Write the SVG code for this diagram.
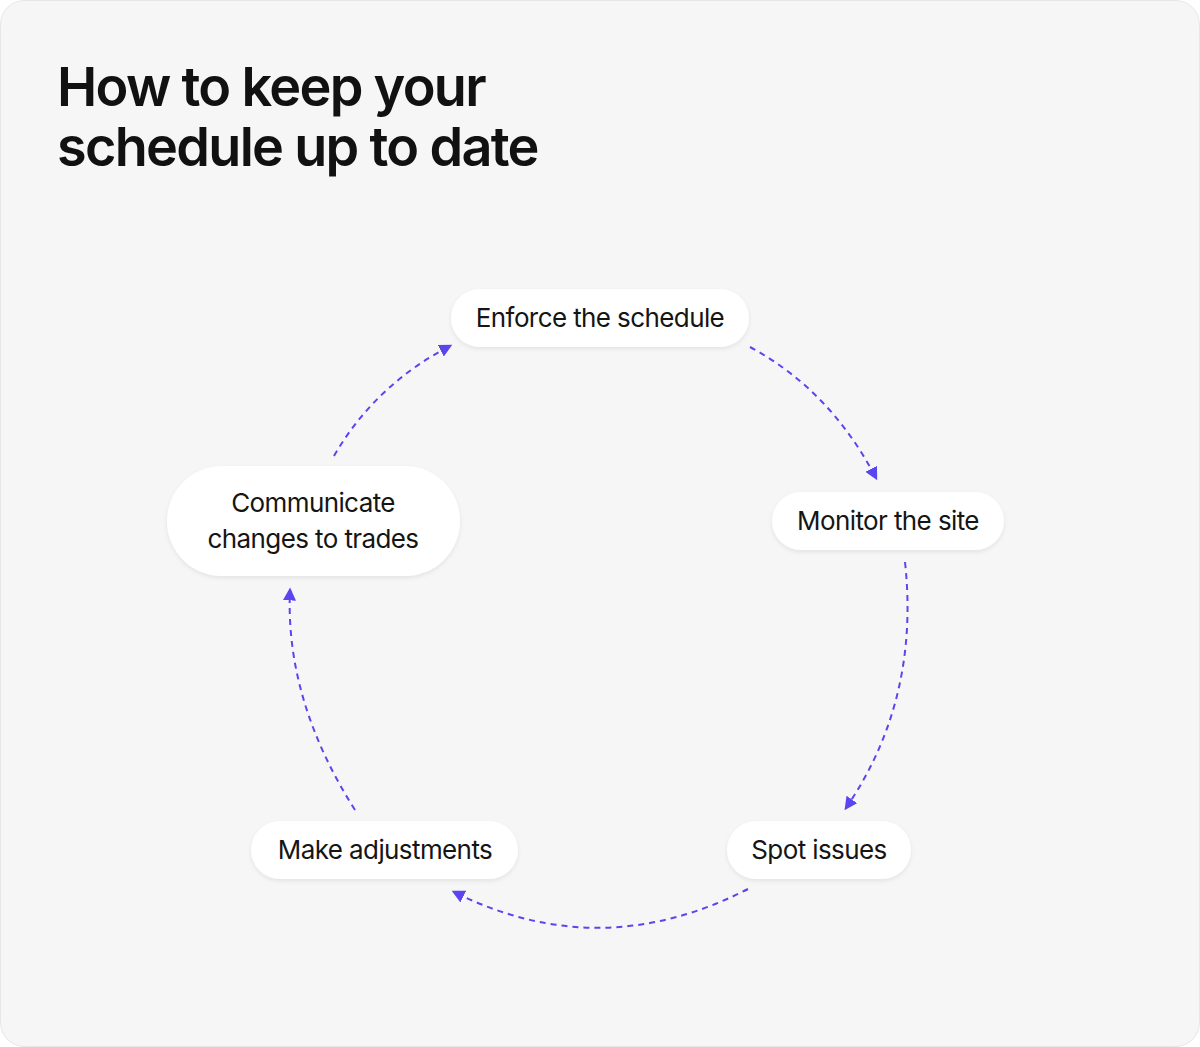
<svg xmlns="http://www.w3.org/2000/svg" width="1200" height="1047" viewBox="0 0 1200 1047">
<defs>
<style>
.node rect{fill:#ffffff;filter:url(#sh)}
.node text{font-family:Inter,"Noto Sans",sans-serif;font-size:26px;fill:#151515;text-anchor:middle;letter-spacing:-0.6px}
.title{font-family:Inter,"Noto Sans",sans-serif;font-size:54px;font-weight:600;fill:#111;letter-spacing:-1.7px}
.conn path{fill:none;stroke:#5a45ee;stroke-width:2;stroke-dasharray:6 5;marker-end:url(#ah)}
</style>
<filter id="sh" x="-20%" y="-40%" width="140%" height="180%">
<feDropShadow dx="0" dy="2" stdDeviation="2" flood-color="#000" flood-opacity="0.08"/>
</filter>
<marker id="ah" viewBox="0 0 10 10" refX="8" refY="5" markerWidth="6.5" markerHeight="6.5" orient="auto" markerUnits="strokeWidth">
<path d="M0,0 L10,5 L0,10 z" fill="#5a45ee"/>
</marker>
</defs>
<rect x="0.5" y="0.5" width="1199" height="1046" rx="24" fill="#f6f6f6" stroke="#e6e6e6"/>
<text class="title" x="57" y="106">How to keep your</text>
<text class="title" x="57" y="166">schedule up to date</text>
<g class="conn">
<path d="M750,347 Q830,390 876,478"/>
<path d="M905,562 Q920,700 846,808"/>
<path d="M748,889 Q600,965 454,892"/>
<path d="M355,810 Q285,700 290,590"/>
<path d="M334,456 Q375,385 450,346"/>
</g>
<g id="enforce" class="node"><rect x="451" y="289" width="298" height="58" rx="29"/><text x="600" y="327">Enforce the schedule</text></g>
<g id="monitor" class="node"><rect x="772" y="492" width="232" height="58" rx="29"/><text x="888" y="530">Monitor the site</text></g>
<g id="spot" class="node"><rect x="727" y="821" width="184" height="58" rx="29"/><text x="819" y="859">Spot issues</text></g>
<g id="adjust" class="node"><rect x="251" y="821" width="267" height="58" rx="29"/><text x="385" y="859">Make adjustments</text></g>
<g id="communicate" class="node"><rect x="167" y="466" width="293" height="110" rx="55"/><text x="313" y="512">Communicate</text><text x="313" y="548">changes to trades</text></g>
</svg>
